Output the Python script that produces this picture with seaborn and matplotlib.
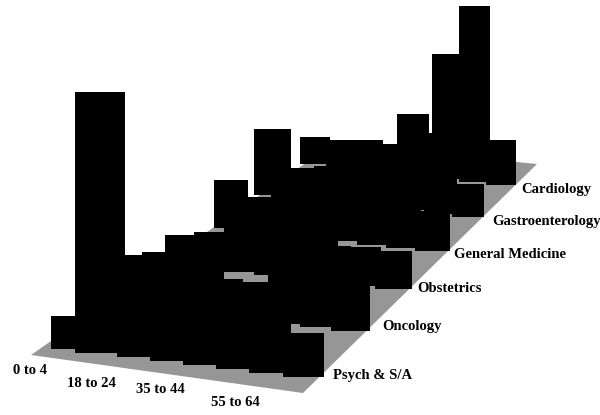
import matplotlib
matplotlib.use("Agg")
import matplotlib.pyplot as plt
import numpy as np
import seaborn as sns

# rows run from the front of the floor to the back
services = ["Psych & S/A", "Oncology", "Obstetrics", "General Medicine", "Gastroenterology", "Cardiology"]
age_labels = ["0 to 4", "18 to 24", "35 to 44", "55 to 64"]

# one list per service, age band 0-4 ... 65+
psych = [33, 261, 100, 60, 100, 65, 70, 44]
oncology = [50, 57, 75, 37, 38, 60, 90, 50]
obstetrics = [30, 36, 60, 50, 50, 36, 39, 38]
general_medicine = [48, 34, 40, 40, 50, 60, 70, 40]
gastro = [66, 30, 35, 45, 63, 96, 81, 33]
cardiology = [27, 27, 30, 28, 40, 125, 176, 45]
heights = [psych, oncology, obstetrics, general_medicine, gastro, cardiology]

# bar foot positions at the four corners of the grid, and the floor outline (pixels)
grid_corners = np.array([[71.5, 349], [303.5, 377], [501, 185], [315, 164]], dtype=float)
floor_x = [31, 303, 537, 333]
floor_y = [355, 393, 164, 144]
service_x = [333, 382, 417, 454, 492, 521]
service_y = [375, 326, 288, 254, 221, 190]
age_x = [30, 91, 160, 235]
age_y = [370, 383, 389, 402]
# bars whose left side runs further out than the grid gives: (row, col) -> pixels
left_extra = {(0, 1): 9, (4, 0): 5}


def fit_homography(dst):
    src = [(0, 0), (1, 0), (1, 1), (0, 1)]
    A, b = [], []
    for (u, v), (x, y) in zip(src, dst):
        A.append([u, v, 1, 0, 0, 0, -u * x, -v * x])
        A.append([0, 0, 0, u, v, 1, -u * y, -v * y])
        b += [x, y]
    return np.append(np.linalg.solve(np.array(A), np.array(b)), 1).reshape(3, 3)


H = fit_homography(grid_corners)


def foot(col, row):
    p = H @ np.array([col / 7, row / 5, 1])
    return p[0] / p[2], p[1] / p[2]


sns.set_theme(style="white")
fig = plt.figure(figsize=(6, 4.15), dpi=100)
ax = fig.add_axes([0, 0, 1, 1])

ax.fill(floor_x, [415 - y for y in floor_y], color="#969696", lw=0, zorder=0)

for row in range(5, -1, -1):
    for col in range(8):
        x, y = foot(col, row)
        step = foot(col + 1, row)[0] - x
        extra = left_extra.get((row, col), 0)
        sns.barplot(x=[x - extra / 2], y=[heights[row][col]], bottom=415 - y, native_scale=True,
                    width=step * (1.24 - 0.02 * row) + extra, color="black", saturation=1,
                    linewidth=0, errorbar=None, ax=ax, zorder=2)

label_font = dict(family="Liberation Serif", fontweight="bold", fontsize=10.5, color="black", va="center")
for name, x, y in zip(services, service_x, service_y):
    ax.text(x, 415 - y, name, ha="left", **label_font)
for name, x, y in zip(age_labels, age_x, age_y):
    ax.text(x, 415 - y, name, ha="center", **label_font)

ax.set_xlim(0, 600)
ax.set_ylim(0, 415)
ax.axis("off")
fig.savefig("out.png", dpi=100)
